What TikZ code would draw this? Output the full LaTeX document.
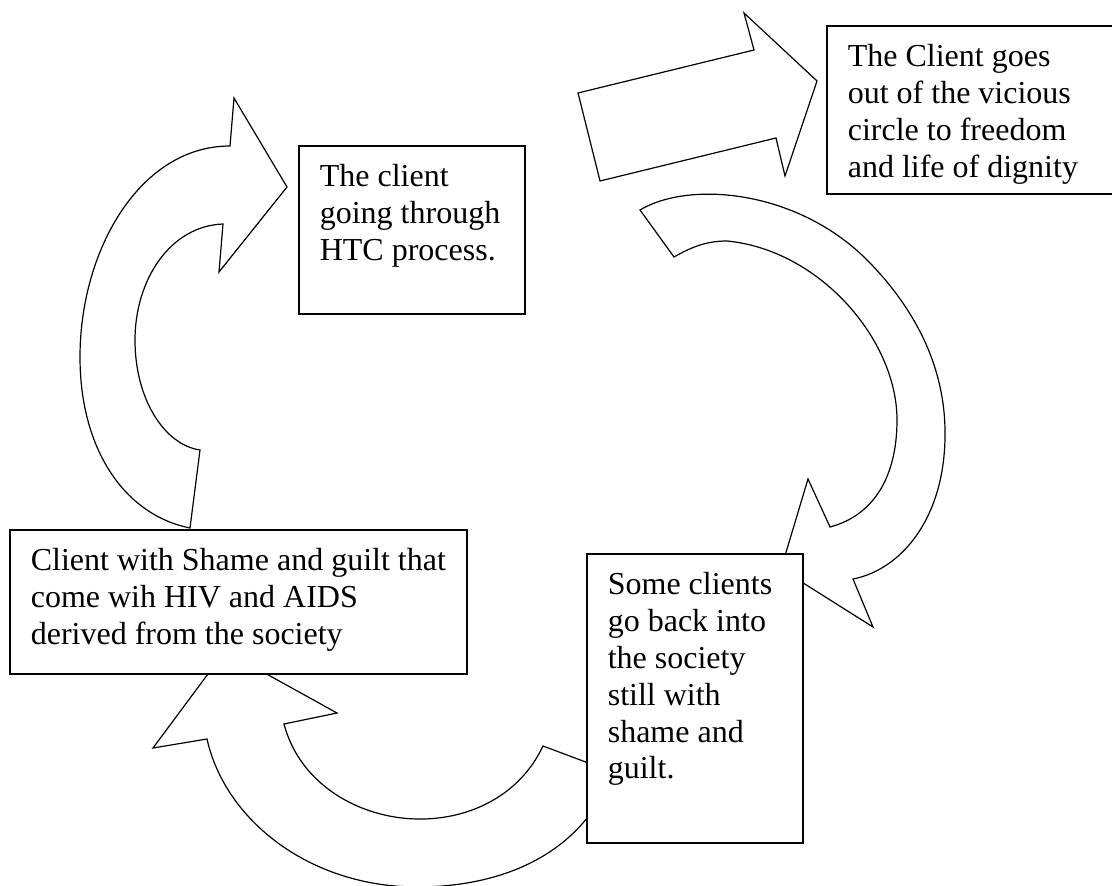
\documentclass[tikz,border=0pt]{standalone}
\usepackage{fontspec}
\setmainfont{Liberation Serif}
\tikzset{
  stage/.style={draw, line width=0.8pt, fill=white, anchor=north west,
    inner xsep=10.5pt, inner ysep=9.4pt, font=\fontsize{16}{18.4}\selectfont},
  bigarrow/.style={draw, line width=0.6pt, fill=white, line join=miter}
}
\newcommand{\stagetext}[3]{\parbox[t][#2][t]{#1}{\raggedright #3}}
\begin{document}
\begin{tikzpicture}[x=0.5pt, y=-0.5pt]
        \useasboundingbox (0, 0) rectangle (1112, 886);

        \coordinate (T1) at (287, 187);
        \coordinate (T2) at (817, 81);
        \coordinate (T3) at (781, 569);
        \coordinate (T4) at (225, 651);

        \draw[bigarrow] (190, 528) .. controls (125, 515) and (80, 450) .. (80, 357)
                .. controls (80, 250) and (140, 146) .. (230, 146) -- (234, 98) -- (T1)
                -- (219, 272) -- (223, 224) .. controls (170, 226) and (135, 280) .. (135, 340)
                .. controls (135, 400) and (165, 445) .. (200, 450) -- cycle;
        \draw[bigarrow] (578, 93) -- (754, 50) -- (744, 13) -- (T2) -- (785, 176)
                -- (776, 138) -- (600, 181) -- cycle;
        \draw[bigarrow] (640, 210) .. controls (690, 180) and (800, 190) .. (870, 263)
                .. controls (925, 320) and (946, 380) .. (945, 437)
                .. controls (944, 520) and (900, 570) .. (853, 579) -- (873, 627) -- (T3)
                -- (808, 479) -- (830, 527) .. controls (875, 515) and (897, 475) .. (897, 420)
                .. controls (897, 340) and (820, 250) .. (727, 241)
                .. controls (705, 241) and (690, 248) .. (674, 257) -- cycle;
        \draw[bigarrow] (207, 739) .. controls (225, 820) and (310, 888) .. (420, 887)
                .. controls (510, 886) and (575, 850) .. (605, 790) -- (615, 773) -- (543, 746)
                .. controls (520, 795) and (470, 820) .. (417, 819)
                .. controls (360, 818) and (300, 785) .. (284, 724) -- (337, 713) -- (T4)
                -- (153, 748) -- cycle;

        \node[stage] (htc) at (298, 145)
                {\stagetext{92pt}{65.2pt}{The client\\\mbox{going through}\\HTC process.}};
        \node[stage] (out) at (826, 25)
                {\stagetext{129pt}{65.2pt}{The Client goes\\out of the vicious\\circle to freedom\\and life of dignity}};
        \node[stage] (shame) at (9, 529)
                {\stagetext{207.5pt}{53.2pt}{\mbox{Client with Shame and guilt that}\\come wih HIV and AIDS\\derived from the society}};
        \node[stage] (back) at (586, 553)
                {\stagetext{87pt}{125.7pt}{Some clients\\go back into\\the society\\still with\\shame and\\guilt.}};
    \end{tikzpicture}
\end{document}
